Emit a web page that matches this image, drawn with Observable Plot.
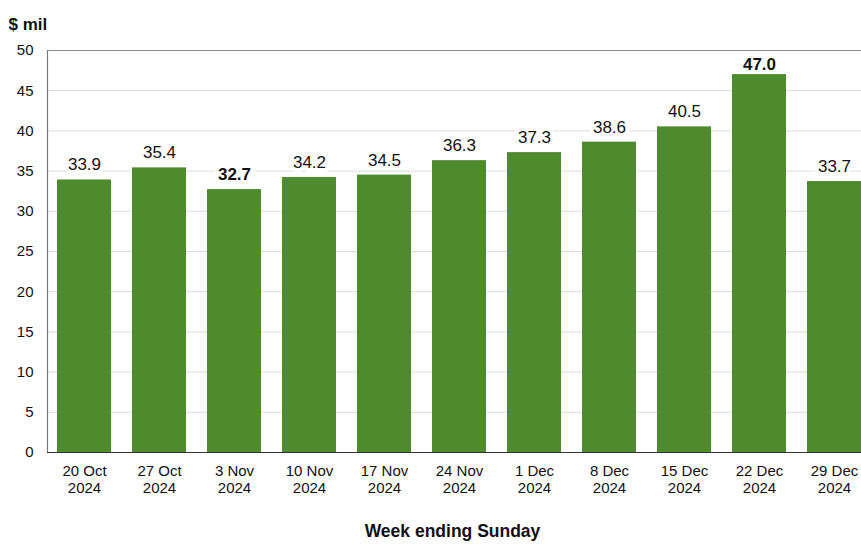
<!DOCTYPE html>
<html>
<head>
<meta charset="utf-8">
<script src="https://cdn.jsdelivr.net/npm/d3@7"></script>
<script src="https://cdn.jsdelivr.net/npm/@observablehq/plot@0.6"></script>
<style>
  html, body { margin: 0; padding: 0; background: #fff; overflow: hidden; }
  #chart svg { overflow: hidden; }
</style>
</head>
<body>
<div id="chart"></div>
<script>
const weeks = ["20 Oct\n2024", "27 Oct\n2024", "3 Nov\n2024", "10 Nov\n2024", "17 Nov\n2024", "24 Nov\n2024", "1 Dec\n2024", "8 Dec\n2024", "15 Dec\n2024", "22 Dec\n2024", "29 Dec\n2024"];
const values = [33.9, 35.4, 32.7, 34.2, 34.5, 36.3, 37.3, 38.6, 40.5, 47.0, 33.7];
const yTicks = [0, 5, 10, 15, 20, 25, 30, 35, 40, 45, 50];
const yUnit = "$ mil";
const xTitle = "Week ending Sunday";

const data = weeks.map((w, i) => ({week: w, value: values[i]}));
const vmin = d3.min(values), vmax = d3.max(values);

const labelOpts = {
  x: "week", y: "value", text: d => d.value.toFixed(1),
  fontSize: 17, fill: "#111", stroke: "white", strokeWidth: 8
};

const chart = Plot.plot({
  width: 861,
  height: 544,
  marginTop: 50,
  marginBottom: 92,
  marginLeft: 47,
  marginRight: 0,
  style: {fontFamily: "'Liberation Sans', Arial, sans-serif", fontSize: "15px", color: "#111", background: "#fff"},
  x: {domain: weeks, range: [46.5, 871.5], paddingInner: 0.28, paddingOuter: 0.14, label: null},
  y: {domain: [0, 50], label: null},
  marks: [
    Plot.ruleY(yTicks.slice(1, -1), {stroke: "#dcdcdc", strokeWidth: 1}),
    Plot.ruleY([50], {stroke: "#8a8a8a", strokeWidth: 1.2}),
    Plot.barY(data, {x: "week", y: "value", fill: "#4e8a2e"}),
    Plot.frame({anchor: "left", stroke: "#777", strokeWidth: 1.2}),
    Plot.ruleY([0], {stroke: "#333", strokeWidth: 1.2}),
    Plot.text(data.filter(d => d.value !== vmin && d.value !== vmax), {...labelOpts, dy: -15, fontWeight: "normal"}),
    Plot.text(data.filter(d => d.value === vmin), {...labelOpts, dy: -15, fontWeight: "bold"}),
    Plot.text(data.filter(d => d.value === vmax), {...labelOpts, dy: -10, fontWeight: "bold"}),
    Plot.axisY(yTicks, {tickSize: 0, tickPadding: 14, fontSize: 15, label: null}),
    Plot.axisX({tickSize: 0, tickPadding: 11, fontSize: 15, lineHeight: 1.15, label: null}),
    Plot.text([yUnit], {frameAnchor: "top-left", dx: -39, dy: -33, textAnchor: "start", fontSize: 17, fontWeight: "bold", fill: "#111"}),
    Plot.text([xTitle], {frameAnchor: "bottom", dx: -2, dy: 84, fontSize: 17.5, fontWeight: "bold", fill: "#111"})
  ]
});
document.getElementById("chart").appendChild(chart);
</script>
</body>
</html>
